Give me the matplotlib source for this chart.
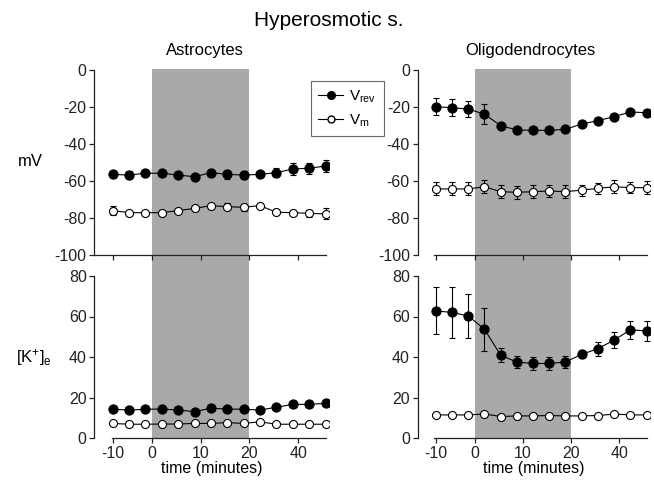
import matplotlib
matplotlib.use("Agg")
import matplotlib.pyplot as plt
from matplotlib.lines import Line2D
from matplotlib.patches import Rectangle
from matplotlib.transforms import blended_transform_factory

plt.rcParams['font.family'] = ['Liberation Sans', 'DejaVu Sans']
plt.rcParams['mathtext.default'] = 'regular'
plt.rcParams['axes.unicode_minus'] = False

# ---------------- data ----------------
times = [-8.2, -4.8, -1.4, 2.0, 5.4, 8.8, 12.1, 15.5, 18.9, 22.3, 25.7, 29.1, 32.5, 35.9]
xtick_pos = [-8.2, 0, 10, 20, 30.2]
xtick_labels = ['-10', '0', '10', '20', '40']
mv_ticks = [0, -20, -40, -60, -80, -100]
k_ticks = [0, 20, 40, 60, 80]
stim_start, stim_end = 0, 20

astro_vrev = [-56.4, -56.8, -55.8, -55.8, -56.8, -57.7, -55.5, -56.4, -56.8, -56.4, -55.5, -53.5, -53.1, -51.9]
astro_vrev_err = [2.0, 2.0, 1.5, 1.5, 1.5, 1.5, 2.0, 2.5, 2.0, 1.5, 2.5, 3.0, 3.0, 3.5]
astro_vm = [-76.0, -77.1, -77.1, -77.1, -76.0, -74.8, -73.3, -73.9, -74.2, -73.3, -76.9, -77.1, -77.5, -77.8]
astro_vm_err = [2.5, 1.0, 1.0, 1.5, 1.5, 1.5, 1.5, 2.0, 2.0, 1.5, 1.5, 1.5, 2.0, 3.0]

oligo_vrev = [-19.8, -20.4, -21.1, -23.9, -30.1, -32.4, -32.6, -32.6, -32.1, -29.2, -27.4, -25.2, -22.7, -23.1]
oligo_vrev_err = [4.5, 4.5, 4.5, 5.5, 1.5, 1.5, 1.5, 1.5, 1.5, 1.5, 1.5, 1.5, 1.5, 1.5]
oligo_vm = [-64.3, -64.3, -64.3, -63.1, -65.8, -66.1, -65.8, -65.4, -65.8, -64.9, -64.0, -63.1, -63.6, -63.6]
oligo_vm_err = [3.5, 3.5, 3.5, 3.5, 3.5, 3.5, 3.5, 3.5, 3.5, 3.0, 3.0, 3.5, 3.0, 3.5]

astro_k_vrev = [14.2, 13.8, 14.2, 14.3, 13.8, 13.0, 14.7, 14.3, 14.2, 13.8, 15.2, 16.6, 16.6, 17.1]
astro_k_vrev_err = [1.0, 1.0, 1.0, 1.0, 1.0, 1.0, 1.0, 1.0, 1.0, 1.0, 1.0, 1.2, 1.2, 1.5]
astro_k_vm = [7.2, 6.8, 6.8, 6.9, 6.9, 7.2, 7.2, 7.6, 7.2, 8.0, 6.8, 6.8, 6.8, 6.8]
astro_k_vm_err = [0.5, 0.5, 0.5, 0.5, 0.5, 0.5, 0.5, 0.5, 0.5, 0.5, 0.5, 0.5, 0.5, 0.5]

oligo_k_vrev = [62.8, 62.0, 60.3, 53.7, 40.8, 37.5, 36.8, 36.8, 37.5, 41.3, 44.1, 48.4, 53.4, 52.9]
oligo_k_vrev_err = [11.6, 12.4, 10.8, 10.5, 3.5, 3.0, 3.0, 3.0, 3.0, 2.0, 3.5, 4.0, 4.5, 5.0]
oligo_k_vm = [11.4, 11.4, 11.4, 11.9, 10.6, 10.9, 10.9, 11.1, 10.9, 10.9, 11.1, 11.8, 11.4, 11.4]
oligo_k_vm_err = [0.6, 0.6, 0.6, 0.6, 0.6, 0.6, 0.6, 0.6, 0.6, 0.6, 0.6, 0.6, 0.6, 0.6]

# ---------------- figure ----------------
W, H = 654, 480
fig = plt.figure(figsize=(W / 100, H / 100), dpi=100)

def px_rect(x0, x1, ytop, ybot):
    return [x0 / W, 1 - ybot / H, (x1 - x0) / W, (ybot - ytop) / H]

XLIM = (-12.0, 36.5)
left_x0, left_x1 = 94.3, 94.3 + 48.5 * 4.83
right_x0, right_x1 = 417.5, 417.5 + 48.5 * 4.785

ax_tl = fig.add_axes(px_rect(left_x0, left_x1, 70, 255))
ax_bl = fig.add_axes(px_rect(left_x0, left_x1, 276, 438))
ax_tr = fig.add_axes(px_rect(right_x0, right_x1, 70, 255))
ax_br = fig.add_axes(px_rect(right_x0, right_x1, 276, 438))

TICKFS = 11.5

def style(ax, ylim, yticks, top, xbound_left):
    ax.set_facecolor('none')
    ax.set_xlim(*XLIM)
    ax.set_ylim(*ylim)
    for s in ['top', 'right']:
        ax.spines[s].set_visible(False)
    ax.spines['left'].set_bounds(min(ylim), max(ylim))
    ax.spines['bottom'].set_bounds(xbound_left, 35.9)
    for s in ['left', 'bottom']:
        ax.spines[s].set_linewidth(0.9)
        ax.spines[s].set_color('#222222')
    ax.set_yticks(yticks)
    ax.set_xticks(xtick_pos)
    ax.tick_params(direction='out', length=3.5, width=0.9, labelsize=TICKFS,
                   colors='#222222', pad=2)
    if top:
        ax.set_xticklabels([])
    else:
        ax.set_xticklabels(xtick_labels)
        ax.set_xlabel('time (minutes)', fontsize=11.5, labelpad=0.5)

style(ax_tl, (-100, 0), mv_ticks, True, XLIM[0])
style(ax_tr, (-100, 0), mv_ticks, True, -8.6)
style(ax_bl, (0, 80), k_ticks, False, -8.4)
style(ax_br, (0, 80), k_ticks, False, -8.6)

# stimulus shading spanning both panels
for ax in (ax_tl, ax_tr):
    tr = blended_transform_factory(ax.transData, fig.transFigure)
    rect = Rectangle((stim_start, 1 - 439 / H), stim_end - stim_start, (439 - 69) / H,
                     transform=tr, facecolor='#a9a9a9', edgecolor='none',
                     clip_on=False, zorder=0)
    ax.add_patch(rect)

def series(ax, y, err, filled):
    ax.errorbar(times, y, yerr=err, color='black', lw=0.8, elinewidth=0.8,
                capsize=2.5, capthick=0.8, marker='o',
                markersize=6.6 if filled else 5.8,
                markerfacecolor='black' if filled else 'white',
                markeredgecolor='black', markeredgewidth=0.8, zorder=3)

series(ax_tl, astro_vm, astro_vm_err, False)
series(ax_tl, astro_vrev, astro_vrev_err, True)
series(ax_tr, oligo_vm, oligo_vm_err, False)
series(ax_tr, oligo_vrev, oligo_vrev_err, True)
series(ax_bl, astro_k_vm, astro_k_vm_err, False)
series(ax_bl, astro_k_vrev, astro_k_vrev_err, True)
series(ax_br, oligo_k_vm, oligo_k_vm_err, False)
series(ax_br, oligo_k_vrev, oligo_k_vrev_err, True)

# titles and labels
fig.text(329 / W, 1 - 20 / H, 'Hyperosmotic s.', ha='center', va='center', fontsize=15)
fig.text(205 / W, 1 - 50 / H, 'Astrocytes', ha='center', va='center', fontsize=12)
fig.text(530 / W, 1 - 50 / H, 'Oligodendrocytes', ha='center', va='center', fontsize=12)
fig.text(30 / W, 1 - 162 / H, 'mV', ha='center', va='center', fontsize=12)
fig.text(34 / W, 1 - 358 / H, '[K$^{+}$]$_{e}$', ha='center', va='center', fontsize=12)

# legend
handles = [
    Line2D([], [], color='black', lw=0.8, marker='o', markersize=5.5,
           markerfacecolor='black', markeredgecolor='black'),
    Line2D([], [], color='black', lw=0.8, marker='o', markersize=5.0,
           markerfacecolor='white', markeredgecolor='black'),
]
leg = fig.legend(handles, ['V$_{rev}$', 'V$_{m}$'], loc='upper left',
                 bbox_to_anchor=(303 / W, 1 - 73 / H), fontsize=11,
                 frameon=True, fancybox=False, handlelength=1.6,
                 handletextpad=0.4, borderpad=0.5, labelspacing=0.5)
leg.get_frame().set_edgecolor('#444444')
leg.get_frame().set_linewidth(0.8)

fig.savefig('out.png', dpi=100)
